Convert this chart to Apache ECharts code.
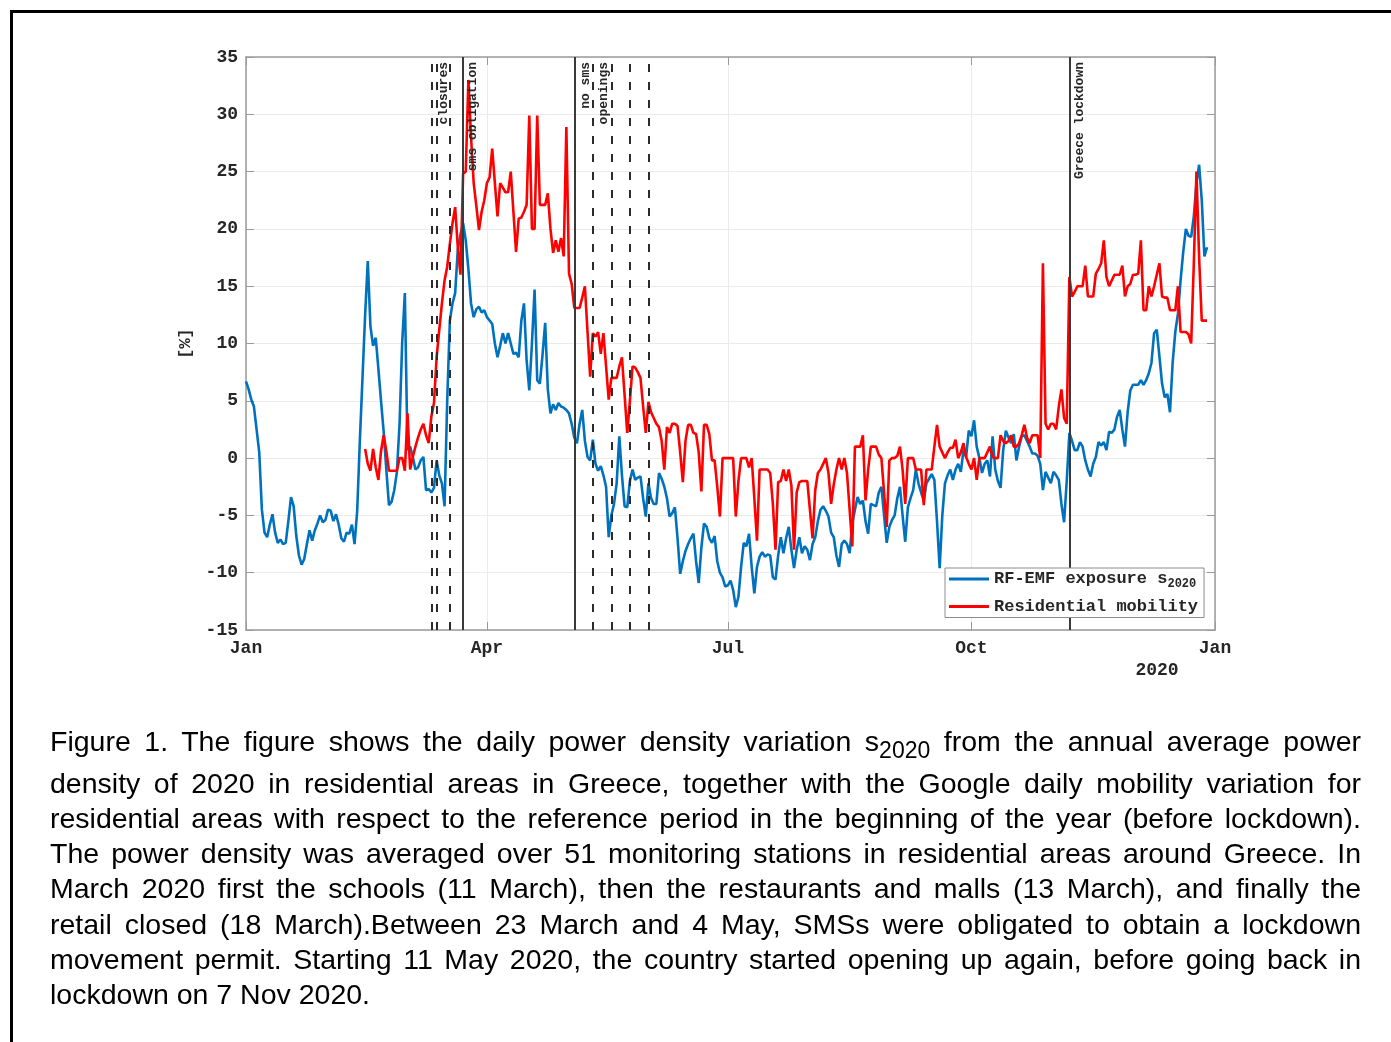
<!DOCTYPE html>
<html><head><meta charset="utf-8">
<script src="https://cdn.jsdelivr.net/npm/echarts@6/dist/echarts.min.js"></script>
<style>
html,body{margin:0;padding:0;background:#fff;}
#wrap{position:relative;width:1391px;height:1042px;overflow:hidden;background:#fff;}
#chart{position:absolute;left:0;top:0;width:1391px;height:1042px;}
.cap{position:absolute;left:50px;width:1311px;font-family:'Liberation Sans',Arial,sans-serif;font-size:28.5px;line-height:36px;height:36px;color:#000;}
.j{text-align:justify;text-align-last:justify;}
.sub{font-size:23px;vertical-align:-7px;line-height:0;}
</style></head>
<body>
<div id="wrap">
<div id="chart"></div>
<div class="cap j" style="top:723px">Figure 1. The figure shows the daily power density variation s<span class="sub">2020</span> from the annual average power</div>
<div class="cap j" style="top:765px">density of 2020 in residential areas in Greece, together with the Google daily mobility variation for</div>
<div class="cap j" style="top:800px">residential areas with respect to the reference period in the beginning of the year (before lockdown).</div>
<div class="cap j" style="top:835px">The power density was averaged over 51 monitoring stations in residential areas around Greece. In</div>
<div class="cap j" style="top:870px">March 2020 first the schools (11 March), then the restaurants and malls (13 March), and finally the</div>
<div class="cap j" style="top:906px">retail closed (18 March).Between 23 March and 4 May, SMSs were obligated to obtain a lockdown</div>
<div class="cap j" style="top:941px">movement permit. Starting 11 May 2020, the country started opening up again, before going back in</div>
<div class="cap" style="top:976px">lockdown on 7 Nov 2020.</div>
</div>
<script>
// ---- data (x = day of year 2020, 0 = 1 Jan) ----
const tickDays = [0, 91, 182, 274, 366];
const tickLabels = ['Jan', 'Apr', 'Jul', 'Oct', 'Jan'];
const yearLabel = '2020';

const blueName = 'RF-EMF exposure s2020';
const redName = 'Residential mobility';

const blueStartDay = 0;
const blueValues = [
 6.7, 6.0, 5.1, 4.5, 2.5, 0.5, -4.5, -6.5, -6.9, -5.8,
 -4.9, -6.5, -7.4, -7.1, -7.5, -7.4, -5.5, -3.4, -4.2, -6.8,
 -8.5, -9.3, -8.8, -7.5, -6.3, -7.2, -6.3, -5.7, -5.0, -5.6,
 -5.4, -4.5, -4.6, -5.5, -4.9, -5.8, -7.0, -7.3, -6.5, -6.6,
 -5.8, -7.5, -4.6, 1.5, 7.0, 12.5, 17.2, 11.5, 9.8, 10.5,
 7.8, 5.0, 2.3, -1.0, -4.1, -3.8, -2.8, -1.2, 3.0, 10.1,
 14.4, 0.7, 1.0, 0.1, -1.0, -0.8, -0.2, 0.1, -2.8, -2.7,
 -3.0, -2.6, -0.2, -1.5, -2.2, -4.2, 5.0, 12.0, 13.5, 14.4,
 18.2, 19.5, 20.5, 19.0, 16.5, 13.5, 12.3, 13.0, 13.2, 12.7,
 12.9, 12.3, 12.0, 11.7, 10.0, 8.8, 9.8, 10.9, 10.0, 10.9,
 10.0, 9.1, 9.2, 8.8, 12.0, 13.5, 8.5, 5.9, 10.0, 14.7,
 6.8, 6.5, 9.0, 11.8, 6.0, 3.9, 4.7, 4.2, 4.8, 4.5,
 4.4, 4.2, 3.9, 3.0, 1.8, 1.3, 3.0, 4.2, 1.5, 0.1,
 -0.2, 1.6, -0.5, -1.1, -0.7, -1.5, -2.5, -6.9, -5.0, -4.0,
 -2.2, 1.9, -1.5, -4.2, -4.3, -2.0, -1.0, -1.9, -1.7, -1.6,
 -3.5, -5.1, -2.2, -3.5, -4.0, -4.0, -1.3, -1.8, -2.5, -3.5,
 -5.1, -4.8, -4.3, -7.0, -10.1, -9.0, -8.1, -7.5, -7.0, -6.6,
 -9.0, -10.9, -7.8, -5.7, -6.0, -7.0, -7.4, -6.8, -9.0, -10.0,
 -10.4, -11.2, -11.1, -10.7, -11.5, -13.0, -12.1, -9.5, -7.4, -7.7,
 -6.6, -9.5, -11.8, -9.5, -8.6, -8.2, -8.6, -8.4, -8.5, -10.4,
 -10.6, -8.5, -6.9, -8.3, -7.0, -6.0, -8.0, -9.6, -8.0, -6.9,
 -8.3, -7.7, -8.0, -8.9, -7.5, -6.9, -5.5, -4.5, -4.2, -4.6,
 -5.1, -6.5, -6.9, -8.5, -9.5, -7.5, -7.2, -7.5, -8.3, -5.7,
 -4.5, -3.4, -4.0, -3.7, -5.5, -6.6, -4.0, -4.1, -4.2, -3.0,
 -2.5, -5.0, -7.4, -6.0, -5.4, -5.0, -3.5, -2.5, -5.0, -7.3,
 -4.3, -3.5, -2.8, -1.0, -2.2, -3.0, -3.7, -2.2, -1.8, -1.4,
 -1.9, -5.5, -9.6, -5.0, -2.2, -1.5, -1.0, -1.9, -1.0, -0.5,
 -1.2, 0.7, 0.1, 2.4, 1.9, 3.3, 1.0, 0.0, -1.3, -0.5,
 -0.2, -1.6, 1.9, -1.0, -2.0, -2.6, 0.7, 2.4, 1.8, 1.3,
 2.1, -0.2, 1.0, 1.9, 2.0, 1.5, 1.0, 0.4, 0.4, 0.2,
 -0.5, -2.8, -1.2, -1.7, -2.2, -1.2, -1.5, -1.9, -4.0, -5.6,
 -2.0, 2.2, 1.5, 0.7, 0.7, 1.4, 1.0, -0.2, -1.0, -1.6,
 -0.5, 0.1, 1.4, 1.1, 1.4, 0.7, 2.3, 2.2, 2.5, 3.6,
 4.2, 2.5, 1.0, 4.0, 5.9, 6.4, 6.4, 6.4, 6.8, 6.4,
 6.8, 7.4, 8.3, 10.9, 11.2, 8.9, 6.5, 5.3, 5.6, 4.0,
 8.3, 11.0, 12.6, 15.5, 18.0, 20.0, 19.4, 19.3, 21.1, 24.0,
 25.6, 22.5, 17.6, 18.4
];

const redStartDay = 45;
const redValues = [
 0.8, -0.5, -1.1, 0.8, -0.8,
 -1.9, 0.6, 2.0, 0.6, -1.1, -1.1, -1.1, -1.1, 0.0, 0.0,
 -1.1, 3.9, -1.0, 0.1, 1.0, 1.8, 2.5, 3.0, 2.0, 1.3,
 3.6, 4.8, 8.8, 11.2, 13.5, 15.5, 16.7, 18.7, 20.5, 21.9,
 18.4, 16.0, 24.8, 25.0, 33.0, 28.0, 24.0, 22.0, 19.9, 21.5,
 22.5, 24.0, 24.5, 27.0, 24.0, 21.1, 24.0, 23.6, 23.2, 23.2,
 25.0, 21.5, 18.0, 20.9, 21.0, 21.5, 22.1, 29.9, 20.0, 20.0,
 29.9, 22.1, 22.1, 22.1, 23.1, 20.0, 17.9, 19.0, 18.0, 19.2,
 17.6, 28.9, 16.1, 15.2, 13.1, 13.1, 13.1, 14.0, 15.0, 11.0,
 7.1, 10.9, 10.6, 11.0, 9.1, 10.9, 8.0, 5.1, 7.0, 7.0,
 7.0, 8.0, 8.8, 5.5, 2.2, 5.0, 8.0, 7.9, 7.5, 7.0,
 4.5, 2.2, 4.9, 4.0, 3.5, 3.0, 2.7, 1.5, -1.0, 2.7,
 2.2, 3.0, 3.0, 2.8, 0.5, -2.1, 1.5, 2.9, 2.9, 2.2,
 2.1, 0.5, -2.9, 2.9, 2.9, 2.1, -0.2, -0.2, -2.5, -5.1,
 0.0, 0.0, 0.0, 0.0, 0.0, -5.1, -2.0, 0.0, 0.0, 0.0,
 -0.8, 0.0, -3.5, -7.2, -1.0, -1.0, -1.0, -1.0, -1.3, -4.0,
 -8.0, -2.1, -2.0, -1.0, -2.0, -1.0, -2.4, -8.0, -3.0, -2.1,
 -2.0, -2.0, -2.0, -4.5, -7.0, -2.8, -1.3, -1.0, -0.5, 0.0,
 -1.3, -4.0, -2.3, -1.0, 0.0, -1.0, 0.0, -1.3, -4.5, -7.7,
 1.0, 1.0, 1.0, 2.0, -3.7, -1.0, 1.0, 1.0, 1.0, 0.3,
 0.0, -3.0, -6.0, -0.2, 0.0, 0.0, 0.2, 1.0, -1.0, -4.0,
 0.0, 0.0, 0.0, -1.0, -1.0, -1.0, -4.1, -1.0, -1.0, -1.0,
 1.0, 2.9, 1.0, 0.5, 0.0, 0.5, 0.9, 0.9, 1.6, 0.0,
 0.5, 1.3, 0.1, -0.5, -1.0, 0.0, -1.9, 0.0, 0.0, 0.0,
 0.5, 1.0, 0.1, 0.0, 0.0, 2.0, 1.5, 1.3, 1.5, 2.0,
 1.0, 1.0, 1.3, 2.0, 2.9, 1.8, 1.3, 2.0, 2.0, 2.0,
 0.0, 17.0, 3.0, 2.5, 3.0, 3.0, 2.5, 4.5, 6.0, 3.5,
 3.0, 15.8, 14.1, 14.5, 15.0, 15.0, 15.0, 16.8, 14.1, 14.1,
 14.1, 16.1, 16.5, 17.0, 19.0, 15.8, 15.0, 15.5, 16.0, 16.0,
 16.0, 16.8, 14.1, 15.0, 15.2, 16.0, 16.0, 16.1, 19.0, 12.9,
 12.9, 15.0, 14.1, 15.0, 16.0, 17.0, 14.1, 14.0, 14.0, 12.9,
 12.9, 12.9, 15.0, 11.0, 11.0, 11.0, 10.8, 10.0, 17.0, 25.0,
 17.5, 12.0, 12.0, 12.0
];

// event lines: day of year, kind
const dashedDays = [70, 72, 77, 131, 138, 145, 152];
const solidDays = [82, 124, 311];
const annotationTexts = ['closures', 'sms obligation', 'no sms', 'openings', 'Greece lockdown'];
const annotationDays = [72, 82, 124, 131, 311];

// ---- chart ----
const mono = "'Liberation Mono','Courier New',monospace";
const txtColor = '#262626';
const axisColor = '#9a9a9a';
const labelMap = {};
tickDays.forEach((d, i) => { labelMap[d] = tickLabels[i]; });

const chart = echarts.init(document.getElementById('chart'), null, {renderer: 'canvas'});

const markData = [];
dashedDays.forEach(d => markData.push({xAxis: d, lineStyle: {type: [8, 10], color: '#2b2b2b', width: 2}}));
solidDays.forEach(d => markData.push({xAxis: d, lineStyle: {type: 'solid', color: '#3a3a3a', width: 2}}));

const option = {
  backgroundColor: 'transparent',
  animation: false,
  grid: {left: 246, right: 176, top: 57, bottom: 412, containLabel: false},
  legend: {
    left: 945, top: 568, orient: 'vertical', z: 20,
    backgroundColor: '#fff', borderColor: '#8c8c8c', borderWidth: 1,
    padding: [1, 6, 1, 4], itemGap: 7, itemWidth: 40, itemHeight: 3,
    icon: 'rect',
    data: [blueName, redName],
    formatter: function (n) { return n === blueName ? 'RF-EMF exposure s{sub|2020}' : n; },
    textStyle: {
      fontFamily: mono, fontWeight: 'bold', fontSize: 17, color: txtColor, lineHeight: 20,
      rich: {sub: {fontFamily: mono, fontWeight: 'bold', fontSize: 12, color: txtColor, padding: [9, 0, 0, 0]}}
    }
  },
  xAxis: [{
    type: 'value', min: 0, max: 366, position: 'bottom',
    axisLine: {show: true, onZero: false, lineStyle: {color: axisColor, width: 1.5}},
    axisTick: {show: true, inside: true, length: 8, customValues: tickDays, lineStyle: {color: axisColor}},
    axisLabel: {show: true, customValues: tickDays, formatter: v => labelMap[v] || '', margin: 9,
      fontFamily: mono, fontWeight: 'bold', fontSize: 18, color: txtColor},
    splitLine: {show: true, lineStyle: {color: '#ebebeb', width: 1}}
  }, {
    type: 'value', min: 0, max: 366, position: 'top',
    axisLine: {show: true, onZero: false, lineStyle: {color: axisColor, width: 1.5}},
    axisTick: {show: true, inside: true, length: 8, customValues: tickDays, lineStyle: {color: axisColor}},
    axisLabel: {show: false}, splitLine: {show: false}
  }],
  yAxis: [{
    type: 'value', min: -15, max: 35, interval: 5, position: 'left',
    name: '[%]', nameLocation: 'middle', nameGap: 52, nameRotate: 90,
    nameTextStyle: {fontFamily: mono, fontWeight: 'bold', fontSize: 17, color: txtColor},
    axisLine: {show: true, onZero: false, lineStyle: {color: axisColor, width: 1.5}},
    axisTick: {show: true, inside: true, length: 8, lineStyle: {color: axisColor}},
    axisLabel: {margin: 8, fontFamily: mono, fontWeight: 'bold', fontSize: 18, color: txtColor},
    splitLine: {show: true, lineStyle: {color: '#ebebeb', width: 1}}
  }, {
    type: 'value', min: -15, max: 35, interval: 5, position: 'right',
    axisLine: {show: true, onZero: false, lineStyle: {color: axisColor, width: 1.5}},
    axisTick: {show: true, inside: true, length: 8, lineStyle: {color: axisColor}},
    axisLabel: {show: false}, splitLine: {show: false}
  }],
  series: [{
    name: blueName, type: 'line', xAxisIndex: 0, yAxisIndex: 0,
    data: blueValues.map((v, i) => [blueStartDay + i, v]),
    showSymbol: false, symbol: 'none', clip: true, z: 2,
    lineStyle: {color: '#0072BD', width: 2.6}, itemStyle: {color: '#0072BD'}
  }, {
    name: redName, type: 'line', xAxisIndex: 0, yAxisIndex: 0,
    data: redValues.map((v, i) => [redStartDay + i, v]),
    showSymbol: false, symbol: 'none', clip: true, z: 3,
    lineStyle: {color: '#FF0000', width: 2.6}, itemStyle: {color: '#FF0000'},
    markLine: {silent: true, symbol: 'none', label: {show: false}, z: 6, data: markData}
  }]
};
chart.setOption(option);

const gfx = [
  {type: 'line', id: 'frameTop', shape: {x1: 10, y1: 11.5, x2: 1391, y2: 11.5}, style: {stroke: '#000', lineWidth: 3}, silent: true, z: 100},
  {type: 'line', id: 'frameLeft', shape: {x1: 11.5, y1: 10, x2: 11.5, y2: 1042}, style: {stroke: '#000', lineWidth: 3}, silent: true, z: 100}
];
const topY = chart.convertToPixel({yAxisIndex: 0}, 35);
const offsets = [7, 9.5, 11.5, 11, 10.5];
annotationTexts.forEach((t, i) => {
  const x = chart.convertToPixel({xAxisIndex: 0}, annotationDays[i]) + offsets[i];
  gfx.push({type: 'text', id: 'ann' + i, x: x, y: topY + 5, rotation: Math.PI / 2, silent: true, z: 50,
    style: {text: t, fontFamily: mono, fontWeight: 'bold', fontSize: 13, fill: txtColor, align: 'right', verticalAlign: 'middle'}});
});
const yearX = chart.convertToPixel({xAxisIndex: 0}, tickDays[4]) - 58;
const bottomY = chart.convertToPixel({yAxisIndex: 0}, -15);
gfx.push({type: 'text', id: 'year', x: yearX, y: bottomY + 40, silent: true, z: 50,
  style: {text: yearLabel, fontFamily: mono, fontWeight: 'bold', fontSize: 18, fill: txtColor, align: 'center', verticalAlign: 'middle'}});
chart.setOption({graphic: gfx});
</script>
</body></html>
